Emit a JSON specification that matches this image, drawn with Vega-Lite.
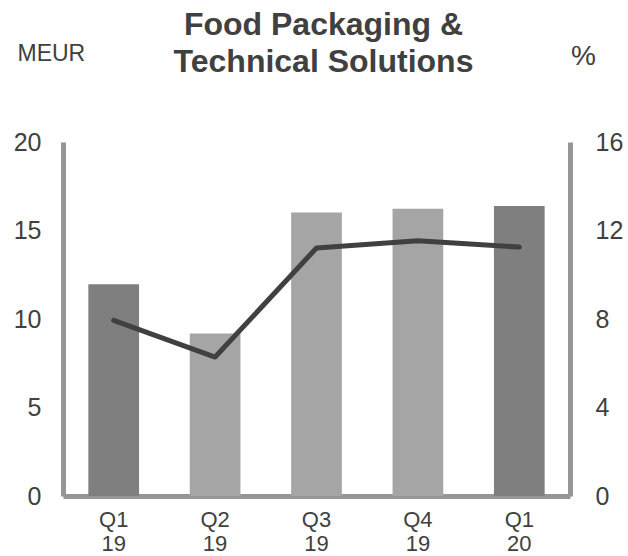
{
  "$schema": "https://vega.github.io/schema/vega-lite/v6.json",
  "width": 507,
  "height": 354,
  "autosize": {"type": "none"},
  "padding": {"left": 63, "top": 142, "right": 58, "bottom": 60},
  "background": "white",
  "config": {"view": {"stroke": null}, "font": "Liberation Sans"},
  "title": {
    "text": ["Food Packaging &", "Technical Solutions"],
    "fontSize": 32,
    "fontWeight": "bold",
    "color": "#404040",
    "lineHeight": 37,
    "anchor": "middle",
    "frame": "group",
    "dx": 7,
    "offset": -37
  },
  "data": {
    "values": [
      {"q": "Q1 19", "meur": 11.97, "pct": 7.94, "tone": "dark"},
      {"q": "Q2 19", "meur": 9.18, "pct": 6.28, "tone": "light"},
      {"q": "Q3 19", "meur": 16.02, "pct": 11.21, "tone": "light"},
      {"q": "Q4 19", "meur": 16.23, "pct": 11.54, "tone": "light"},
      {"q": "Q1 20", "meur": 16.38, "pct": 11.25, "tone": "dark"}
    ]
  },
  "encoding": {
    "x": {
      "field": "q",
      "type": "nominal",
      "sort": null,
      "scale": {"paddingInner": 0.5, "paddingOuter": 0.25},
      "axis": {
        "title": null,
        "labelAngle": 0,
        "labelExpr": "split(datum.label, ' ')",
        "labelFontSize": 22,
        "labelLineHeight": 24,
        "labelColor": "#404040",
        "labelPadding": 13,
        "ticks": false,
        "tickSize": 0,
        "domainColor": "#959595",
        "domainWidth": 5,
        "grid": false
      }
    }
  },
  "layer": [
    {
      "mark": {"type": "bar"},
      "encoding": {
        "y": {
          "field": "meur",
          "type": "quantitative",
          "scale": {"domain": [0, 20]},
          "axis": {
            "orient": "left",
            "values": [0, 5, 10, 15, 20],
            "grid": false,
            "ticks": false,
            "tickSize": 0,
            "domainColor": "#959595",
            "domainWidth": 5,
            "labelFontSize": 25,
            "labelColor": "#404040",
            "labelPadding": 22,
            "title": "MEUR",
            "titleAngle": 0,
            "titleAlign": "left",
            "titleBaseline": "alphabetic",
            "titleX": -46,
            "titleY": -82,
            "titleFontSize": 23,
            "titleFontWeight": "normal",
            "titleColor": "#404040"
          }
        },
        "color": {
          "field": "tone",
          "type": "nominal",
          "scale": {"domain": ["dark", "light"], "range": ["#7f7f7f", "#a5a5a5"]},
          "legend": null
        }
      }
    },
    {
      "mark": {"type": "line", "color": "#404040", "strokeWidth": 5, "strokeCap": "round", "strokeJoin": "round"},
      "encoding": {
        "y": {
          "field": "pct",
          "type": "quantitative",
          "scale": {"domain": [0, 16]},
          "axis": {
            "orient": "right",
            "values": [0, 4, 8, 12, 16],
            "grid": false,
            "ticks": false,
            "tickSize": 0,
            "domainColor": "#959595",
            "domainWidth": 5,
            "labelFontSize": 25,
            "labelColor": "#404040",
            "labelPadding": 25,
            "title": "%",
            "titleAngle": 0,
            "titleAlign": "center",
            "titleBaseline": "alphabetic",
            "titleX": 13,
            "titleY": -78,
            "titleFontSize": 28,
            "titleFontWeight": "normal",
            "titleColor": "#404040"
          }
        }
      }
    }
  ],
  "resolve": {"scale": {"y": "independent"}}
}
